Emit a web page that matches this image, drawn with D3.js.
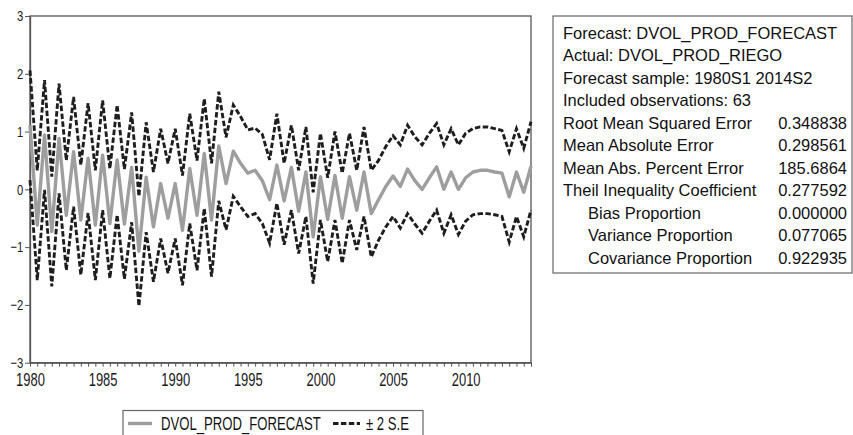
<!DOCTYPE html>
<html>
<head>
<meta charset="utf-8">
<script src="https://cdn.jsdelivr.net/npm/d3@7"></script>
<style>
  body { margin: 0; background: #fff; }
  svg { display: block; font-family: "Liberation Sans", Arial, sans-serif; }
</style>
</head>
<body>
<svg id="chart" width="853" height="435"></svg>
<script>
// semesters 1980S1 .. 2014S2
const periods = [];
for (let yr = 1980; yr <= 2014; yr++) { periods.push(`${yr}S1`, `${yr}S2`); }
const yearLabels = ["1980", "1985", "1990", "1995", "2000", "2005", "2010"];
const yTicks = [-3, -2, -1, 0, 1, 2, 3];

const forecast = [1.11, -0.62, 0.94, -0.73, 0.88, -0.45, 0.65, -0.53, 0.54, -0.62,
  0.59, -0.59, 0.51, -0.60, 0.38, -1.07, 0.21, -0.65, 0.10, -0.50,
  0.10, -0.71, 0.36, -0.45, 0.62, -0.53, 0.75, 0.10, 0.66, 0.45,
  0.28, 0.33, 0.15, -0.18, 0.42, -0.20, 0.38, -0.38, 0.30, -0.82,
  0.22, -0.52, 0.24, -0.50, 0.22, -0.36, 0.30, -0.42, -0.18, 0.05,
  0.23, 0.05, 0.35, 0.15, 0.00, 0.20, 0.39, 0.00, 0.30, 0.00,
  0.20, 0.30, 0.33, 0.33, 0.30, 0.28, -0.13, 0.30, -0.05, 0.40];

const upper = [2.06, 0.33, 1.89, 0.22, 1.83, 0.50, 1.60, 0.42, 1.49, 0.33,
  1.54, 0.36, 1.46, 0.35, 1.33, -0.12, 1.16, 0.30, 1.05, 0.45,
  1.05, 0.24, 1.31, 0.50, 1.57, 0.45, 1.69, 0.90, 1.46, 1.26,
  1.03, 1.06, 0.95, 0.51, 1.31, 0.45, 1.11, 0.33, 1.08, -0.05,
  0.97, 0.20, 1.00, 0.28, 0.97, 0.33, 1.08, 0.33, 0.50, 0.74,
  0.93, 0.77, 1.11, 0.91, 0.77, 0.97, 1.14, 0.77, 1.05, 0.77,
  0.97, 1.05, 1.08, 1.08, 1.05, 1.02, 0.65, 1.05, 0.71, 1.17];

const lower = [0.16, -1.57, -0.01, -1.68, -0.07, -1.40, -0.30, -1.48, -0.41, -1.57,
  -0.36, -1.54, -0.44, -1.55, -0.57, -2.02, -0.74, -1.60, -0.85, -1.45,
  -0.85, -1.66, -0.59, -1.40, -0.33, -1.51, -0.20, -0.70, -0.12, -0.30,
  -0.47, -0.42, -0.59, -0.93, -0.24, -0.96, -0.36, -1.11, -0.47, -1.63,
  -0.53, -1.25, -0.53, -1.28, -0.53, -1.05, -0.47, -1.17, -0.88, -0.65,
  -0.47, -0.67, -0.42, -0.60, -0.76, -0.55, -0.36, -0.76, -0.44, -0.78,
  -0.55, -0.44, -0.42, -0.42, -0.44, -0.47, -0.91, -0.47, -0.82, -0.36];

const statLabels = ["Forecast: DVOL_PROD_FORECAST", "Actual: DVOL_PROD_RIEGO",
  "Forecast sample: 1980S1 2014S2", "Included observations: 63",
  "Root Mean Squared Error", "Mean Absolute Error", "Mean Abs. Percent Error",
  "Theil Inequality Coefficient", "Bias Proportion", "Variance Proportion",
  "Covariance Proportion"];
const statValues = ["", "", "", "", "0.348838", "0.298561", "185.6864",
  "0.277592", "0.000000", "0.077065", "0.922935"];
const statIndent = [0, 0, 0, 0, 0, 0, 0, 0, 1, 1, 1];

const legendLabels = ["DVOL_PROD_FORECAST", "\u00b1 2 S.E"];

const svg = d3.select("#chart");
const plotLeft = 30, plotRight = 531, plotTop = 16, plotBottom = 362.7;

const x = d3.scaleLinear().domain([0, periods.length - 1]).range([plotLeft, plotRight]);
const y = d3.scaleLinear().domain([-3, 3]).range([plotBottom, plotTop]);

// frame
svg.append("rect")
  .attr("x", plotLeft).attr("y", plotTop)
  .attr("width", plotRight - plotLeft).attr("height", plotBottom - plotTop)
  .attr("fill", "none").attr("stroke", "#555").attr("stroke-width", 1.3);

// x axis, one tick per semester, labels every 5 years
const xAxis = d3.axisBottom(x)
  .tickValues(d3.range(periods.length))
  .tickSize(4)
  .tickSizeOuter(0)
  .tickFormat(i => yearLabels.includes(periods[i].slice(0, 4)) && periods[i].endsWith("S1") ? periods[i].slice(0, 4) : "");

const gx = svg.append("g")
  .attr("transform", `translate(0,${plotBottom})`)
  .call(xAxis);
gx.select(".domain").attr("stroke", "#555").attr("stroke-width", 1.3);
gx.selectAll(".tick line").attr("stroke", "#555");
gx.selectAll(".tick text")
  .attr("font-size", 18)
  .attr("fill", "#1a1a1a")
  .attr("y", 10.5)
  .attr("transform", "scale(0.72,1)");

const yAxis = d3.axisLeft(y).tickValues(yTicks).tickSize(5).tickSizeOuter(0).tickFormat(d3.format("d"));
const gy = svg.append("g")
  .attr("transform", `translate(${plotLeft},0)`)
  .call(yAxis);
gy.select(".domain").attr("stroke", "#555").attr("stroke-width", 1.3);
gy.selectAll(".tick line").attr("stroke", "#555");
gy.selectAll(".tick text")
  .attr("font-size", 15)
  .attr("fill", "#1a1a1a")
  .attr("x", -9)
  .attr("transform", "scale(0.75,1)");

// series
const line = d3.line().x((d, i) => x(i)).y(d => y(d));

svg.append("path")
  .datum(forecast)
  .attr("d", line)
  .attr("fill", "none")
  .attr("stroke", "#9e9e9e")
  .attr("stroke-width", 3.4)
  .attr("stroke-linejoin", "round");

[upper, lower].forEach(band => {
  svg.append("path")
    .datum(band)
    .attr("d", line)
    .attr("fill", "none")
    .attr("stroke", "#1e1e1e")
    .attr("stroke-width", 2.9)
    .attr("stroke-dasharray", "5.5,2.4");
});

// stats box
svg.append("rect")
  .attr("x", 553).attr("y", 16)
  .attr("width", 299).attr("height", 257)
  .attr("fill", "#fff").attr("stroke", "#666").attr("stroke-width", 1.2);

const rows = svg.append("g").attr("font-size", 16.5).attr("fill", "#111");
statLabels.forEach((t, k) => {
  rows.append("text")
    .attr("x", statIndent[k] ? 588 : 563)
    .attr("y", 39 + k * 22.45)
    .text(t);
  if (statValues[k]) {
    rows.append("text")
      .attr("x", 847)
      .attr("y", 39 + k * 22.45)
      .attr("text-anchor", "end")
      .text(statValues[k]);
  }
});

// legend
const lg = svg.append("g");
lg.append("rect")
  .attr("x", 123).attr("y", 410.5)
  .attr("width", 300).attr("height", 40)
  .attr("fill", "#fff").attr("stroke", "#666").attr("stroke-width", 1.2);
lg.append("line")
  .attr("x1", 128).attr("x2", 152).attr("y1", 423.5).attr("y2", 423.5)
  .attr("stroke", "#9e9e9e").attr("stroke-width", 3.4);
lg.append("text")
  .attr("transform", "translate(161,430) scale(0.71,1)")
  .attr("font-size", 18.5).attr("fill", "#111")
  .text(legendLabels[0]);
lg.append("line")
  .attr("x1", 333).attr("x2", 360).attr("y1", 423.5).attr("y2", 423.5)
  .attr("stroke", "#1e1e1e").attr("stroke-width", 2.9).attr("stroke-dasharray", "5.5,2.4");
lg.append("text")
  .attr("transform", "translate(366,430) scale(0.71,1)")
  .attr("font-size", 18.5).attr("fill", "#111")
  .text(legendLabels[1]);
</script>
</body>
</html>
